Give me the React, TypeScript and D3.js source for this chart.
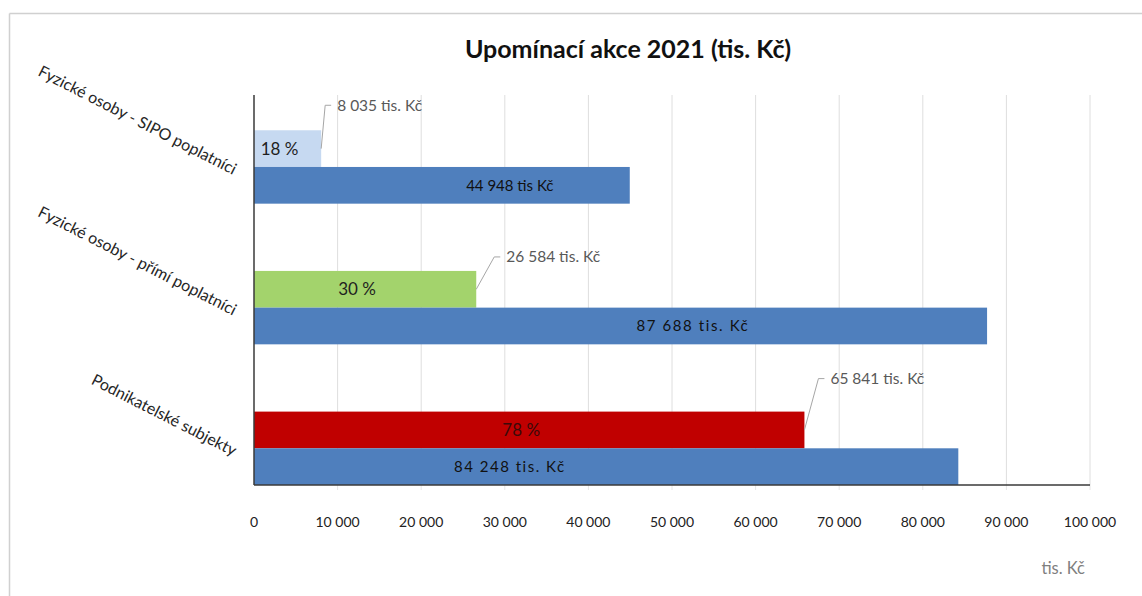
import React from "react";
import * as d3 from "d3";

const categories = [
  "Fyzické osoby - SIPO poplatníci",
  "Fyzické osoby - přímí poplatníci",
  "Podnikatelské subjekty",
];
const collected = [8035, 26584, 65841];
const totals = [44948, 87688, 84248];
const shares = [18, 30, 78];
const totalLabels = ["44 948 tis Kč", "87 688 tis. Kč", "84 248 tis. Kč"];
const collectedLabels = ["8 035 tis. Kč", "26 584 tis. Kč", "65 841 tis. Kč"];
const xTicks = [0, 10000, 20000, 30000, 40000, 50000, 60000, 70000, 80000, 90000, 100000];

// layout-only constants
const totalLabelAt = [30600, 52500, 30600];
const totalLabelSpacing = [0, 1.6, 1.5];
const calloutOffsets = [
  { dx: 16, dy: -25 },
  { dx: 30, dy: -14 },
  { dx: 26, dy: -33 },
];
const topColors = ["#c6d9f1", "#a3d36c", "#c00000"];
const blue = "#4f7fbd";
const FONT = "Lato, 'Open Sans', sans-serif";

const fmt = (v: number) => d3.format(",")(v).replace(/,/g, " ");

export default function App() {
  const W = 1142, H = 596;
  const x = d3.scaleLinear().domain([0, 100000]).range([254, 1090]);
  const y = d3.scaleBand<string>().domain(categories).range([63, 485]).padding(0);
  const plotTop = 95, plotBottom = 485;
  const barH = 36.7;

  return (
    <svg width={W} height={H} style={{ position: "absolute", left: 0, top: 0, background: "#fff" }} fontFamily={FONT}>
      {/* outer frame */}
      <line x1={9.5} y1={13.5} x2={W} y2={13.5} stroke="#d0d0d0" strokeWidth={1.5} />
      <line x1={9.5} y1={13.5} x2={9.5} y2={H} stroke="#d0d0d0" strokeWidth={1.5} />

      <text x={628} y={58} textAnchor="middle" fontSize={25} fontWeight={700} fill="#111">
        Upomínací akce 2021 (tis. Kč)
      </text>

      {/* gridlines */}
      {xTicks.slice(1).map((t) => (
        <g key={t}>
          <line x1={x(t)} x2={x(t)} y1={plotTop} y2={plotBottom} stroke="#dedede" strokeWidth={1} />
          <line x1={x(t)} x2={x(t)} y1={plotBottom} y2={plotBottom + 5} stroke="#e6e6e6" strokeWidth={1} />
        </g>
      ))}

      {categories.map((c, i) => {
        const y0 = (y(c) as number) + y.bandwidth() - 2 * barH;
        const y1 = y0 + barH;
        const xe = x(collected[i]);
        const tx = xe + calloutOffsets[i].dx;
        const ty = y0 + calloutOffsets[i].dy;
        const mid = y0 + barH / 2;
        return (
          <g key={c}>
            <rect x={x(0)} y={y0} width={x(collected[i]) - x(0)} height={barH} fill={topColors[i]} />
            <rect x={x(0)} y={y1} width={x(totals[i]) - x(0)} height={barH} fill={blue} />
            <text x={x(collected[i] / 2) - 8} y={mid} dy="0.35em" textAnchor="middle" fontSize={17} fill={i === 2 ? "#3a0a0a" : "#1f1f1f"}>
              {shares[i]} %
            </text>
            <text
              x={x(totalLabelAt[i])}
              y={y1 + barH / 2}
              dy="0.35em"
              textAnchor="middle"
              fontSize={15}
              letterSpacing={totalLabelSpacing[i]}
              fill="#111"
            >
              {totalLabels[i]}
            </text>
            <polyline
              points={`${xe},${mid} ${tx - 12},${ty} ${tx - 6},${ty}`}
              fill="none"
              stroke="#a6a6a6"
              strokeWidth={1}
            />
            <text x={tx} y={ty} dy="0.35em" fontSize={15.5} fill="#595959">
              {collectedLabels[i]}
            </text>
            <text
              transform={`translate(233,${y1 + 8}) rotate(27)`}
              textAnchor="end"
              fontSize={16}
              fill="#262626"
            >
              {c}
            </text>
          </g>
        );
      })}

      {/* axes */}
      <line x1={x(0)} x2={x(0)} y1={plotTop} y2={plotBottom} stroke="#3a3a3a" strokeWidth={1.5} />
      <line x1={x(0)} x2={x(100000)} y1={plotBottom} y2={plotBottom} stroke="#3a3a3a" strokeWidth={1.5} />

      {xTicks.map((t) => (
        <text key={t} x={x(t)} y={522} dy="0.35em" textAnchor="middle" fontSize={14} fill="#222">
          {fmt(t)}
        </text>
      ))}
      <text x={1085} y={568} dy="0.35em" textAnchor="end" fontSize={16.5} fill="#7f7f7f">
        tis. Kč
      </text>
    </svg>
  );
}
